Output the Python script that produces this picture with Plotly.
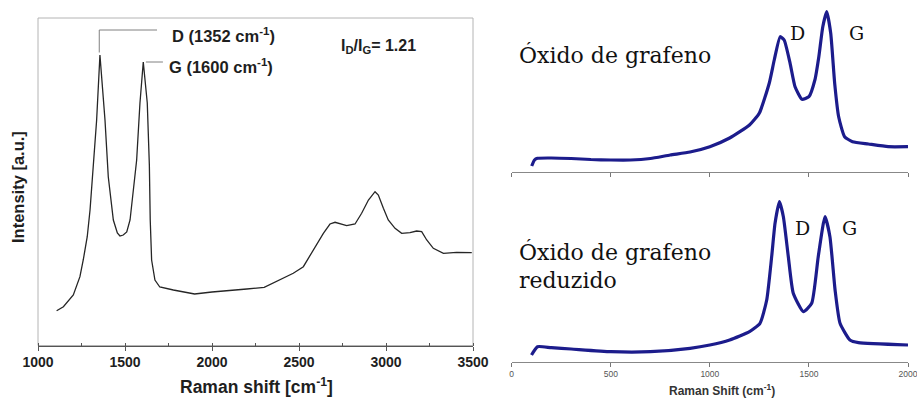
import plotly.graph_objects as go

W, H = 917, 400

# ---------------- data ----------------
# Left panel: Raman spectrum (arbitrary intensity units)
left_shift = [1107, 1146, 1203, 1241, 1260, 1283, 1299, 1310, 1337, 1356, 1385, 1404, 1414,
              1433, 1456, 1471, 1490, 1510, 1529, 1548, 1557, 1567, 1586, 1605, 1628, 1640,
              1645, 1653, 1672, 1700, 1778, 1855, 1900, 2000, 2100, 2200, 2300, 2391, 2467,
              2525, 2582, 2640, 2678, 2707, 2774, 2822, 2860, 2899, 2937, 2956, 2985, 3013,
              3052, 3090, 3138, 3176, 3205, 3234, 3272, 3330, 3406, 3493]
left_int = [34.8, 38.8, 50.5, 68.8, 85.5, 108.8, 135.5, 162.5, 225.5, 290.5, 225.5, 168.5, 155.5,
            125.5, 112.5, 109.5, 110.5, 113.5, 125.5, 155.5, 175.5, 185.5, 242.5, 283.5, 242.5, 180.5,
            125.5, 85.5, 65.5, 58.5, 55.5, 52.5, 51.5, 53.5, 54.8, 56.5, 58.2, 66.2, 72.2,
            78.8, 95.5, 112.2, 121.5, 123.2, 119.8, 121.5, 132.2, 145.5, 153.8, 150.5, 137.2, 125.5,
            117.2, 112.2, 112.8, 114.5, 113.8, 105.5, 97.2, 92.2, 93.2, 92.8]

# Right top: graphene oxide
go_shift = [101, 115, 130, 200, 300, 400, 500, 600, 700, 800, 900, 1000, 1100, 1200, 1250,
            1300, 1325, 1355, 1375, 1405, 1430, 1465, 1500, 1530, 1550, 1570, 1590, 1610,
            1630, 1650, 1680, 1720, 1800, 1900, 2000]
go_int = [5.7, 11.7, 13.4, 13.7, 13.2, 12.2, 11.7, 11.7, 13.2, 16.7, 19.7, 25, 33.7, 46.7, 58.7,
          88.7, 111.7, 135, 131.7, 108.4, 85, 72.4, 75, 91.7, 115, 145, 160, 138.4,
          88.4, 55, 35, 30, 27.7, 25, 25]

# Right bottom: reduced graphene oxide
rgo_shift = [100, 130, 200, 300, 500, 700, 900, 1000, 1100, 1200, 1253, 1287, 1312, 1329, 1351,
             1371, 1396, 1421, 1472, 1514, 1547, 1581, 1606, 1632, 1657, 1707, 1750, 2000]
rgo_int = [6.7, 15, 14, 12.7, 10, 10, 13.4, 16.7, 21.7, 30, 38.4, 61.7, 105, 138.4, 160,
           145, 105, 68.4, 50, 58.4, 105, 145, 125, 71.7, 38.4, 21.7, 19, 16.7]

left_ticks = [1000, 1500, 2000, 2500, 3000, 3500]
left_ticktext = ["1000", "1500", "2000", "2500", "3000", "3500"]
right_ticks = [0, 500, 1000, 1500, 2000]

d_peak, g_peak = 1352, 1600

# ---------------- helpers ----------------
def px(x):
    return x / W

def py(y):
    return 1 - y / H

fig = go.Figure()

fig.add_trace(go.Scatter(x=left_shift, y=left_int, mode="lines",
                         line=dict(color="#262626", width=1.3),
                         xaxis="x", yaxis="y", showlegend=False, hoverinfo="skip"))
fig.add_trace(go.Scatter(x=go_shift, y=go_int, mode="lines",
                         line=dict(color="#1c1c8c", width=3.2, shape="spline", smoothing=0.5),
                         xaxis="x2", yaxis="y2", showlegend=False, hoverinfo="skip"))
fig.add_trace(go.Scatter(x=rgo_shift, y=rgo_int, mode="lines",
                         line=dict(color="#1c1c8c", width=3.2, shape="spline", smoothing=0.5),
                         xaxis="x3", yaxis="y3", showlegend=False, hoverinfo="skip"))

SANS = "Liberation Sans, Arial, sans-serif"
tick_font = dict(family=SANS, size=14, color="#1e1e1e")

fig.update_layout(
    width=W, height=H, autosize=False,
    margin=dict(l=0, r=0, t=0, b=0, pad=0, autoexpand=False),
    paper_bgcolor="white", plot_bgcolor="white",
    xaxis=dict(domain=[px(38), px(473)], range=[1000, 3500], anchor="y", automargin=False,
               tickvals=left_ticks, ticktext=[f"<b>{t}</b>" for t in left_ticktext],
               ticks="outside", ticklen=4, tickcolor="#555",
               showline=True, linecolor="#555", linewidth=1, showgrid=False, zeroline=False,
               tickfont=tick_font, ticklabeloverflow="allow",
               minor=dict(dtick=250, ticks="inside", ticklen=3, tickcolor="#555", showgrid=False)),
    yaxis=dict(domain=[py(345.5), py(18)], range=[0, 327.5], anchor="x", automargin=False,
               showticklabels=False, showgrid=False, zeroline=False, ticks="",
               showline=False),
    xaxis2=dict(domain=[px(511.7), px(908)], range=[0, 2000], anchor="y2", automargin=False,
                tickvals=right_ticks, ticks="outside", ticklen=4, tickcolor="#777",
                showline=True, linecolor="#888", linewidth=1, showgrid=False, zeroline=False,
                showticklabels=False),
    yaxis2=dict(domain=[py(171.7), py(5)], range=[0, 166.7], anchor="x2", visible=False,
                automargin=False),
    xaxis3=dict(domain=[px(511.7), px(908)], range=[0, 2000], anchor="y3", automargin=False,
                tickvals=right_ticks, ticks="outside", ticklen=4, tickcolor="#777",
                showline=True, linecolor="#888", linewidth=1, showgrid=False, zeroline=False,
                ticklabeloverflow="allow",
                tickfont=dict(family=SANS, size=8.5, color="#555")),
    yaxis3=dict(domain=[py(361.7), py(195)], range=[0, 166.7], anchor="x3", visible=False,
                automargin=False),
)

# frame of left panel
fig.add_shape(type="rect", xref="x domain", yref="y domain", x0=0, x1=1, y0=0, y1=1,
              line=dict(color="#b4b4b4", width=1), layer="below")

# leader lines
line_style = dict(color="#808080", width=1)
fig.add_shape(type="line", xref="x", yref="y", x0=d_peak, x1=d_peak, y0=293, y1=315.5, line=line_style)
fig.add_shape(type="line", xref="x", yref="y", x0=d_peak, x1=1684, y0=315.5, y1=315.5, line=line_style)
fig.add_shape(type="line", xref="x", yref="y", x0=g_peak + 20, x1=1718, y0=283.5, y1=283.5, line=line_style)

ann = []
lab_font = dict(family=SANS, size=16.5, color="#1e1e1e")
ann.append(dict(x=px(170), y=py(35), xref="paper", yref="paper", xanchor="left", yanchor="middle",
                text=f"<b>D ({d_peak} cm<sup>-1</sup>)</b>", showarrow=False, font=lab_font))
ann.append(dict(x=px(167), y=py(66), xref="paper", yref="paper", xanchor="left", yanchor="middle",
                text=f"<b>G ({g_peak} cm<sup>-1</sup>)</b>", showarrow=False, font=lab_font))
ann.append(dict(x=px(339), y=py(46), xref="paper", yref="paper", xanchor="left", yanchor="middle",
                text="<b>I<sub>D</sub>/I<sub>G</sub>= 1.21</b>", showarrow=False,
                font=dict(family=SANS, size=16, color="#1e1e1e")))
ann.append(dict(x=px(18), y=py(187), xref="paper", yref="paper", xanchor="center", yanchor="middle",
                text="<b>Intensity [a.u.]</b>", textangle=-90, showarrow=False,
                font=dict(family=SANS, size=16.5, color="#1e1e1e")))
ann.append(dict(x=px(256), y=py(386), xref="paper", yref="paper", xanchor="center", yanchor="middle",
                text="<b>Raman shift [cm<sup>-1</sup>]</b>", showarrow=False,
                font=dict(family=SANS, size=17.5, color="#1e1e1e")))
ann.append(dict(x=px(722), y=py(390), xref="paper", yref="paper", xanchor="center", yanchor="middle",
                text="<b>Raman Shift (cm<sup>-1</sup>)</b>", showarrow=False,
                font=dict(family=SANS, size=12, color="#333")))

serif = dict(family="DejaVu Serif, Liberation Serif, serif", size=22, color="#111")
serif_s = dict(family="DejaVu Serif, Liberation Serif, serif", size=19, color="#111")
ann.append(dict(x=px(517), y=py(55), xref="paper", yref="paper", xanchor="left", yanchor="middle",
                text="Óxido de grafeno", showarrow=False, font=serif))
ann.append(dict(x=px(517), y=py(252), xref="paper", yref="paper", xanchor="left", yanchor="middle",
                text="Óxido de grafeno", showarrow=False, font=serif))
ann.append(dict(x=px(517), y=py(280), xref="paper", yref="paper", xanchor="left", yanchor="middle",
                text="reduzido", showarrow=False, font=serif))
ann.append(dict(x=px(797), y=py(33), xref="paper", yref="paper", xanchor="center", yanchor="middle",
                text="D", showarrow=False, font=serif_s))
ann.append(dict(x=px(856), y=py(33), xref="paper", yref="paper", xanchor="center", yanchor="middle",
                text="G", showarrow=False, font=serif_s))
ann.append(dict(x=px(802), y=py(228), xref="paper", yref="paper", xanchor="center", yanchor="middle",
                text="D", showarrow=False, font=serif_s))
ann.append(dict(x=px(849), y=py(228), xref="paper", yref="paper", xanchor="center", yanchor="middle",
                text="G", showarrow=False, font=serif_s))
fig.update_layout(annotations=ann)

fig.write_html("out.html", config={"responsive": False, "displayModeBar": False},
               post_script="document.body.style.margin='0';document.body.style.overflow='hidden';")
